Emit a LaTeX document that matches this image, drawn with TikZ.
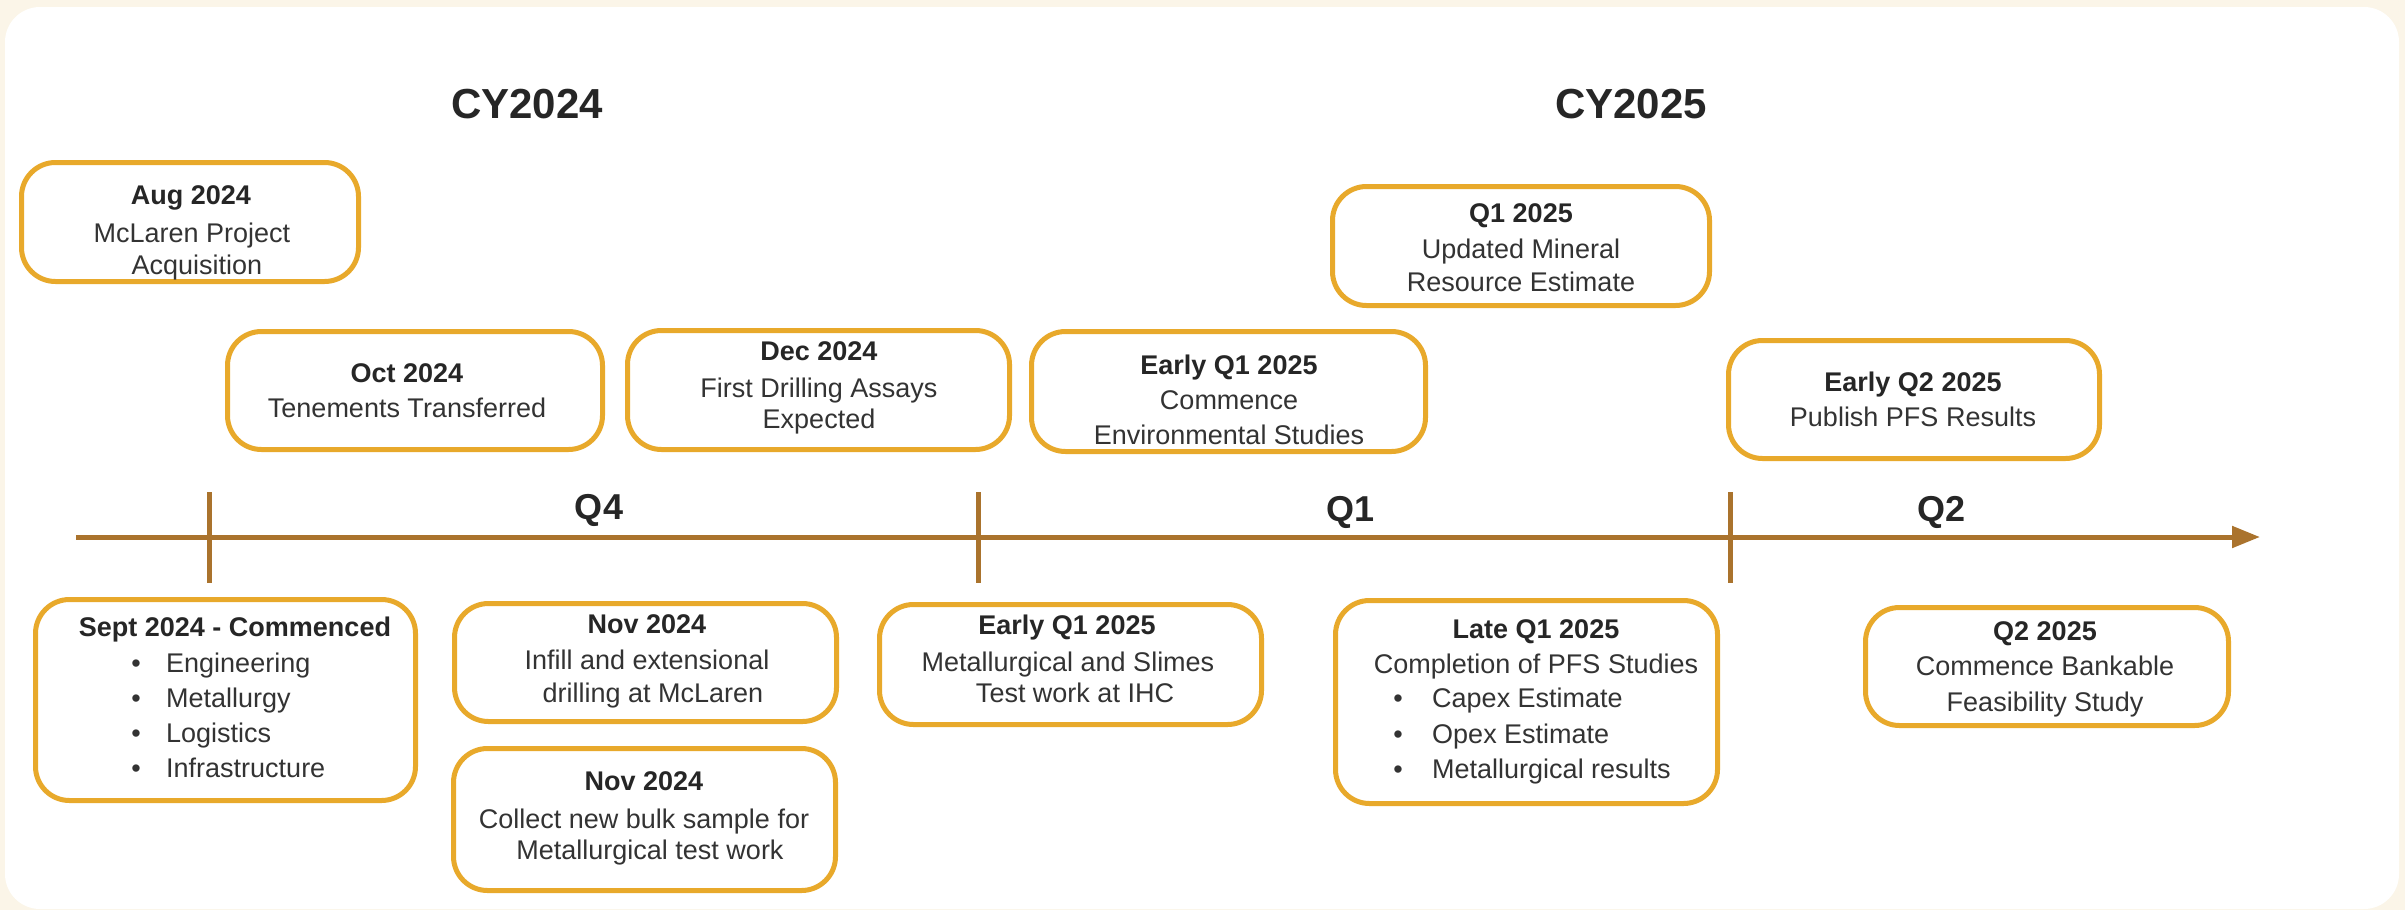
\documentclass[tikz,border=0pt]{standalone}
\usepackage{fontspec}
\setmainfont{Liberation Sans}
\usetikzlibrary{arrows.meta}
\definecolor{cream}{HTML}{FBF5E8}
\definecolor{axisbrown}{HTML}{AA732D}
\definecolor{boxorange}{HTML}{E8A92B}
\definecolor{txttitle}{HTML}{262626}
\definecolor{txtbody}{HTML}{333333}
\begin{document}
\begin{tikzpicture}[x=1pt,y=-1pt,
  evbox/.style={draw=boxorange, line width=5pt, rounded corners=34pt, fill=white, inner sep=0pt},
  ttl/.style={font=\fontsize{27}{32}\selectfont\bfseries, text=txttitle, anchor=base, inner sep=0pt},
  bdy/.style={font=\fontsize{27}{32}\selectfont, text=txtbody, anchor=base, inner sep=0pt},
  bli/.style={font=\fontsize{27}{32}\selectfont, text=txtbody, anchor=base west, inner sep=0pt},
  bul/.style={font=\fontsize{27}{32}\selectfont, text=txtbody, anchor=base, inner sep=0pt},
  yearlbl/.style={font=\fontsize{42}{48}\selectfont\bfseries, text=txttitle, anchor=base, inner sep=0pt},
  qlbl/.style={font=\fontsize{36}{42}\selectfont\bfseries, text=txttitle, anchor=base, inner sep=0pt},
  axisline/.style={draw=axisbrown, line width=5pt},
  tickline/.style={draw=axisbrown, line width=5pt}
]
\useasboundingbox (0,0) rectangle (2405,910);
\fill[cream] (0,0) rectangle (2405,910);
\fill[white, rounded corners=35pt] (5,7) rectangle (2399,909);

% axis
\coordinate (axs) at (76,537);
\coordinate (axe) at (2260,537);
\draw[axisline, -{Triangle[length=28pt,width=21pt]}] (axs) -- (axe);
\coordinate (t1a) at (209,492); \coordinate (t1b) at (209,583);
\coordinate (t2a) at (978,492); \coordinate (t2b) at (978,583);
\coordinate (t3a) at (1730,492); \coordinate (t3b) at (1730,583);
\draw[tickline] (t1a) -- (t1b);
\draw[tickline] (t2a) -- (t2b);
\draw[tickline] (t3a) -- (t3b);

% headings
\node[yearlbl] (cy24) at (527,118) {CY2024};
\node[yearlbl] (cy25) at (1631,118) {CY2025};
\node[qlbl] (q4) at (599,519) {Q4};
\node[qlbl] (q1l) at (1350,521) {Q1};
\node[qlbl] (q2l) at (1941,521) {Q2};

% boxes
\node[evbox, minimum width=337pt, minimum height=119pt] (aug) at (190,222) {};
\node[evbox, minimum width=375pt, minimum height=118pt] (oct) at (415,390.5) {};
\node[evbox, minimum width=382pt, minimum height=119pt] (dec) at (818.5,390) {};
\node[evbox, minimum width=394pt, minimum height=120pt] (eqa) at (1228.5,391.5) {};
\node[evbox, minimum width=377pt, minimum height=119pt] (qone) at (1521,246) {};
\node[evbox, minimum width=371pt, minimum height=118pt] (eqtwo) at (1914,399.5) {};
\node[evbox, minimum width=380pt, minimum height=201pt] (sept) at (225.5,700) {};
\node[evbox, minimum width=382pt, minimum height=118pt] (nova) at (645.5,662.5) {};
\node[evbox, minimum width=382pt, minimum height=142pt] (novb) at (644.5,819.5) {};
\node[evbox, minimum width=382pt, minimum height=120pt] (eqb) at (1070.5,664.5) {};
\node[evbox, minimum width=382pt, minimum height=203pt] (late) at (1526.5,702) {};
\node[evbox, minimum width=363pt, minimum height=118pt] (qtwo) at (2047,666.5) {};

% texts
\node[ttl] (augt) at (191,204) {Aug 2024};
\node[bdy] (aug1) at (192,242) {McLaren Project};
\node[bdy] (aug2) at (197,274) {Acquisition};

\node[ttl] (octt) at (407,382) {Oct 2024};
\node[bdy] (oct1) at (407,417) {Tenements Transferred};

\node[ttl] (dect) at (819,360) {Dec 2024};
\node[bdy] (dec1) at (819,397) {First Drilling Assays};
\node[bdy] (dec2) at (819,428) {Expected};

\node[ttl] (eqat) at (1229,374) {Early Q1 2025};
\node[bdy] (eqa1) at (1229,409) {Commence};
\node[bdy] (eqa2) at (1229,444) {Environmental Studies};

\node[ttl] (qonet) at (1521,222) {Q1 2025};
\node[bdy] (qone1) at (1521,258) {Updated Mineral};
\node[bdy] (qone2) at (1521,291) {Resource Estimate};

\node[ttl] (eqtwot) at (1913,391) {Early Q2 2025};
\node[bdy] (eqtwo1) at (1913,426) {Publish PFS Results};

\node[ttl] (septt) at (235,636) {Sept 2024 - Commenced};
\node[bul] (sb1) at (136,672) {•}; \node[bli] (s1) at (166,672) {Engineering};
\node[bul] (sb2) at (136,707) {•}; \node[bli] (s2) at (166,707) {Metallurgy};
\node[bul] (sb3) at (136,742) {•}; \node[bli] (s3) at (166,742) {Logistics};
\node[bul] (sb4) at (136,777) {•}; \node[bli] (s4) at (166,777) {Infrastructure};

\node[ttl] (novat) at (647,633) {Nov 2024};
\node[bdy] (nova1) at (647,669) {Infill and extensional};
\node[bdy] (nova2) at (653,702) {drilling at McLaren};

\node[ttl] (novbt) at (644,790) {Nov 2024};
\node[bdy] (novb1) at (644,828) {Collect new bulk sample for};
\node[bdy] (novb2) at (650,859) {Metallurgical test work};

\node[ttl] (eqbt) at (1067,634) {Early Q1 2025};
\node[bdy] (eqb1) at (1068,671) {Metallurgical and Slimes};
\node[bdy] (eqb2) at (1075,702) {Test work at IHC};

\node[ttl] (latet) at (1536,638) {Late Q1 2025};
\node[bdy] (late1) at (1536,673) {Completion of PFS Studies};
\node[bul] (lb1) at (1398,707) {•}; \node[bli] (l1) at (1432,707) {Capex Estimate};
\node[bul] (lb2) at (1398,743) {•}; \node[bli] (l2) at (1432,743) {Opex Estimate};
\node[bul] (lb3) at (1398,778) {•}; \node[bli] (l3) at (1432,778) {Metallurgical results};

\node[ttl] (qtwot) at (2045,640) {Q2 2025};
\node[bdy] (qtwo1) at (2045,675) {Commence Bankable};
\node[bdy] (qtwo2) at (2045,711) {Feasibility Study};
\end{tikzpicture}
\end{document}
